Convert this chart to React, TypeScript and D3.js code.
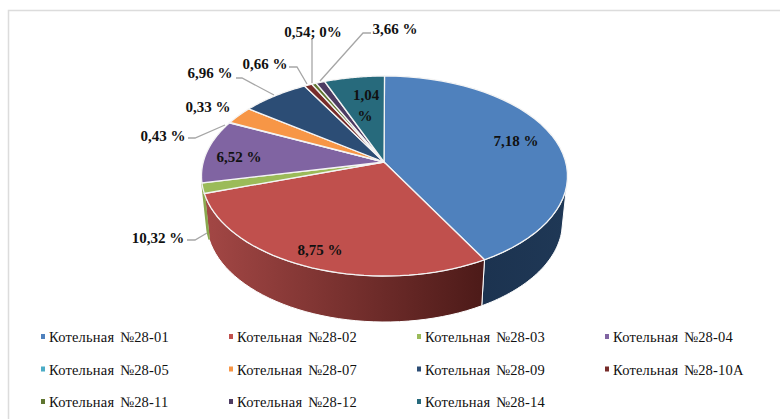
import React, { useEffect, useRef } from "react";
import * as d3 from "d3";

const names = ["Котельная №28-01", "Котельная №28-02", "Котельная №28-03", "Котельная №28-04", "Котельная №28-05", "Котельная №28-07", "Котельная №28-09", "Котельная №28-10А", "Котельная №28-11", "Котельная №28-12", "Котельная №28-14"];
const shares = [40.8, 31.4, 1.7, 10, 0.1, 2.7, 6.1, 0.7, 0.4, 0.8, 5.3];
const labels = ["7,18 %", "8,75 %", "10,32 %", "6,52 %", "0,43 %", "0,33 %", "6,96 %", "0,66 %", "0,54; 0%", "3,66 %", "1,04"];
const colors = ["#4f81bd", "#c0504d", "#9bbb59", "#8064a2", "#4bacc6", "#f79646", "#2c4d75", "#772c2a", "#5f7530", "#4d3b62", "#276a7c"];
const sideFrom = ["#1f3856", "#a34745", "#8aa84f", "#5f4a7a", "#336688", "#c0742f", "#1f3a5a", "#551f1e", "#46561f", "#352a44", "#1c4f5c"];
const sideTo = ["#1c3350", "#4c1a18", "#8aa84f", "#5f4a7a", "#336688", "#c0742f", "#1f3a5a", "#551f1e", "#46561f", "#352a44", "#1c4f5c"];

// label anchor in page px, leader polyline per slice
const labelPos: [number, number][] = [[516, 146], [320, 255], [158, 243], [239, 162], [163, 141], [208, 112], [210, 78], [265, 69], [313, 37], [395, 34], [366, 100]];
const leaders: ([number, number][] | null)[] = [
  null, null,
  [[187, 240], [195, 240], [207, 233]],
  null,
  [[188, 138], [195, 138], [225, 125]],
  null,
  [[236, 78], [242, 78], [274, 95]],
  [[289, 67], [297, 67], [307, 84]],
  [[312, 39], [312, 83]],
  [[371, 33], [363, 33], [320, 81]],
  null,
];

export default function App() {
  const svgRef = useRef<SVGSVGElement>(null);

  useEffect(() => {
    const svg = d3.select(svgRef.current);
    svg.selectAll("*").remove();
    const font = "'Liberation Serif', serif";

    // only the top and left edges of the frame show in the source
    svg.append("rect").attr("width", 780).attr("height", 419).attr("fill", "#fff");
    svg.append("path").attr("d", "M8.5,419V10.5H780").attr("fill", "none").attr("stroke", "#dcdcdc").attr("stroke-width", 1.5);

    const cx = 384.5, cy = 176, rx = 183, ry = 100, depth = 46;
    const apex: [number, number] = [384, 162];

    const arcs = d3.pie<number>().sort(null).value(d => d)(shares);
    const pt = (a: number, dy = 0, shrink = 0): [number, number] =>
      [cx + (rx - shrink) * Math.sin(a), cy + dy - ry * Math.cos(a)];

    const defs = svg.append("defs");
    const line = d3.line();
    const sample = (a0: number, a1: number, dy = 0, shrink = 0) =>
      d3.range(0, 41).map(i => pt(a0 + (a1 - a0) * i / 40, dy, shrink));

    // side wall, only the front half of the ellipse
    arcs.forEach((d, i) => {
      const a0 = Math.max(d.startAngle, Math.PI / 2 + 0.1);
      const a1 = Math.min(d.endAngle, Math.PI * 1.5 - 0.07);
      if (a1 <= a0) return;
      const top = sample(a0, a1);
      const bottom = sample(a1, a0, depth, 5);
      const g = defs.append("linearGradient").attr("id", `side${i}`)
        .attr("gradientUnits", "userSpaceOnUse")
        .attr("x1", i === 1 ? 205 : 570).attr("y1", 0).attr("x2", 485).attr("y2", 0);
      g.append("stop").attr("offset", "0").attr("stop-color", sideFrom[i]);
      g.append("stop").attr("offset", "1").attr("stop-color", sideTo[i]);
      svg.append("path").attr("d", line([...top, ...bottom])! + "Z")
        .attr("fill", `url(#side${i})`)
        .attr("stroke", i === 2 ? sideFrom[2] : "#fff").attr("stroke-width", i === 2 ? 1.5 : 1);
    });

    // top face
    arcs.forEach((d, i) => {
      svg.append("path").attr("d", line([apex, ...sample(d.startAngle, d.endAngle)])! + "Z")
        .attr("fill", colors[i]).attr("stroke", "#f4f4f4").attr("stroke-width", 1.3);
    });

    // leaders
    leaders.forEach(l => {
      if (!l) return;
      svg.append("path").attr("d", line(l)!).attr("fill", "none").attr("stroke", "#a6a6a6").attr("stroke-width", 1.3);
    });

    // data labels
    labels.forEach((t, i) => {
      svg.append("text").attr("x", labelPos[i][0]).attr("y", labelPos[i][1]).attr("text-anchor", "middle")
        .attr("font-family", font).attr("font-weight", "bold").attr("font-size", 15).attr("fill", "#111").text(t);
    });
    svg.append("text").attr("x", 365).attr("y", 121).attr("text-anchor", "middle")
      .attr("font-family", font).attr("font-weight", "bold").attr("font-size", 15).attr("fill", "#111").text("%");

    // legend, 4 columns, 3 rows
    const legX = d3.scalePoint<number>().domain([0, 1, 2, 3]).range([41, 605]);
    const legY = d3.scalePoint<number>().domain([0, 1, 2]).range([337, 402]);
    names.forEach((n, i) => {
      const x = legX(i % 4)!, y = legY(Math.floor(i / 4))!;
      svg.append("rect").attr("x", x).attr("y", y - 3).attr("width", 4).attr("height", 5).attr("fill", colors[i]);
      svg.append("text").attr("x", x + 8).attr("y", y + 5)
        .attr("font-family", font).attr("font-size", 14.5).attr("word-spacing", 2).attr("letter-spacing", 0.2).attr("fill", "#111").text(n);
    });
  }, []);

  return (
    <svg ref={svgRef} width={780} height={419} style={{ position: "fixed", left: 0, top: 0 }} />
  );
}
